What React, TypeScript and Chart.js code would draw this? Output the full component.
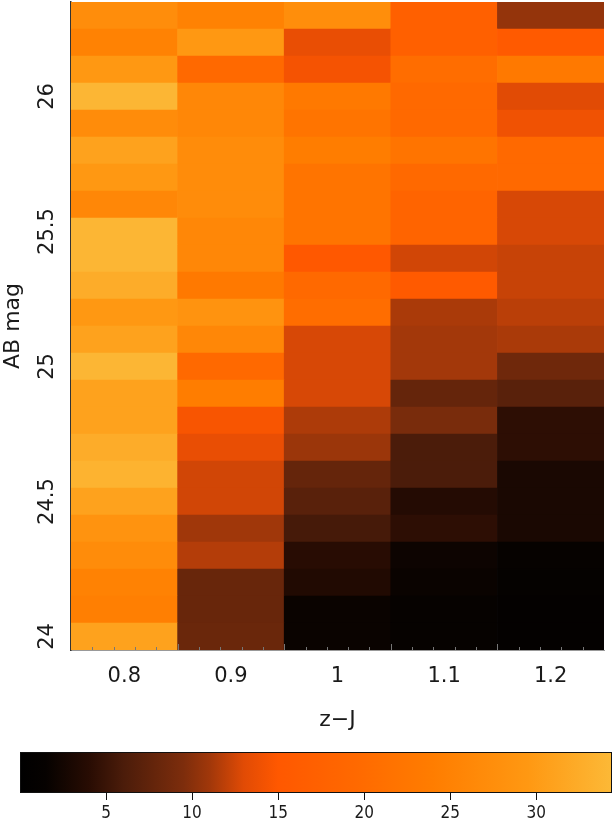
import React, { useEffect, useRef } from 'react';
import { Chart, registerables } from 'chart.js';

Chart.register(...registerables);

// ---- data ----
const zjLabels = ['0.8', '0.9', '1', '1.1', '1.2'];
// AB magnitude bin centres, bottom to top
const abMags = [24.0, 24.1, 24.2, 24.3, 24.4, 24.5, 24.6, 24.7, 24.8, 24.9, 25.0, 25.1, 25.2, 25.3, 25.4, 25.5, 25.6, 25.7, 25.8, 25.9, 26.0, 26.1, 26.2, 26.3];
// cell values per z-J column, in the same order as abMags
const col08 = [31, 24.5, 25, 27, 28.5, 31, 33.5, 32.5, 31, 31, 34, 31, 29.5, 32.5, 34, 34, 26, 29.5, 31, 27, 34, 29.5, 25, 27.3];
const col09 = [8.2, 8, 8, 11.6, 11, 12.5, 12.5, 13.5, 14.5, 24, 19.5, 26, 28.5, 23, 26, 26, 27, 27, 27, 26, 26, 19.5, 29.5, 25];
const col10 = [1.8, 1.8, 3.5, 4, 5.7, 7, 7.8, 10.8, 11.4, 12.7, 12.7, 12.7, 20.5, 19.5, 15, 22, 22, 22, 24, 22, 23, 14.3, 13.5, 27.5];
const col11 = [1.5, 1.5, 1.8, 2, 4.3, 3.7, 6, 6, 9.2, 7.8, 11.1, 11.1, 11.3, 15.5, 12.5, 18.2, 18.2, 19.5, 22, 19.5, 19.5, 20.5, 17, 17];
const col12 = [1, 1, 1.2, 1.5, 3, 3, 3, 4.3, 4.3, 7, 8.5, 11.3, 11.8, 12.2, 12.2, 12.7, 12.7, 19.5, 19.5, 14, 13, 23, 15.5, 10.5];
const yTicks = [24, 24.5, 25, 25.5, 26];
const colorbarTicks = [5, 10, 15, 20, 25, 30];
const colorbarMin = 0;
const colorbarMax = 34.4;

// colour map: value -> rgb
const stopValues = [0, 1.5, 4, 6, 9.5, 11, 13, 15, 19.5, 24, 29.5, 34.4];
const stopColors: number[][] = [
  [0, 0, 0], [6, 2, 0], [40, 12, 3], [75, 28, 10], [125, 45, 12], [160, 55, 10],
  [225, 75, 5], [255, 88, 0], [255, 105, 0], [255, 125, 0], [255, 152, 18], [252, 185, 55],
];

function colorFor(v: number): string {
  const n = stopValues.length;
  if (v <= stopValues[0]) return `rgb(${stopColors[0].join(',')})`;
  if (v >= stopValues[n - 1]) return `rgb(${stopColors[n - 1].join(',')})`;
  for (let i = 0; i < n - 1; i++) {
    const a = stopValues[i], b = stopValues[i + 1];
    if (v >= a && v <= b) {
      const t = (v - a) / (b - a);
      const c = stopColors[i].map((ch, k) => Math.round(ch + (stopColors[i + 1][k] - ch) * t));
      return `rgb(${c.join(',')})`;
    }
  }
  return 'black';
}

const FONT = "'DejaVu Sans', sans-serif";
const TXT = '#1a1a1a';

const minorTicksPlugin = {
  id: 'minorTicks',
  afterDatasetsDraw(chart: any) {
    const x = chart.scales.x;
    const ctx = chart.ctx;
    const bottom = chart.chartArea.bottom;
    ctx.save();
    ctx.strokeStyle = '#777';
    ctx.lineWidth = 1;
    for (let k = 1; k < 25; k++) {
      const idx = (k * 0.02 - 0.05) / 0.1; // fractional category index
      const px = Math.round(x.getPixelForValue(idx)) + 0.5;
      const len = k % 5 === 0 ? 6 : 3;
      ctx.beginPath();
      ctx.moveTo(px, bottom);
      ctx.lineTo(px, bottom - len);
      ctx.stroke();
    }
    ctx.restore();
  },
};

const gradientPlugin = {
  id: 'cbarGradient',
  beforeDatasetsDraw(chart: any) {
    const x = chart.scales.x;
    const { top, bottom, left, right } = chart.chartArea;
    const ctx = chart.ctx;
    const g = ctx.createLinearGradient(left, 0, right, 0);
    stopValues.forEach((v, i) => {
      const t = (x.getPixelForValue(v) - left) / (right - left);
      g.addColorStop(Math.min(1, Math.max(0, t)), `rgb(${stopColors[i].join(',')})`);
    });
    ctx.save();
    ctx.fillStyle = g;
    ctx.fillRect(left, top, right - left, bottom - top);
    ctx.strokeStyle = '#111';
    ctx.lineWidth = 1;
    ctx.strokeRect(left + 0.5, top + 0.5, right - left - 1, bottom - top - 1);
    ctx.restore();
  },
};

export default function App() {
  const mainRef = useRef<HTMLCanvasElement>(null);
  const barRef = useRef<HTMLCanvasElement>(null);

  useEffect(() => {
    document.body.style.margin = '0';
    const columns = [col08, col09, col10, col11, col12];
    const datasets = abMags.map((m, ri) => ({
      data: columns.map(() => [m - 0.05, m + 0.05]),
      backgroundColor: columns.map((c) => colorFor(c[ri])),
      borderWidth: 0,
      grouped: false,
      barPercentage: 1,
      categoryPercentage: 1,
    }));

    const main = new Chart(mainRef.current as HTMLCanvasElement, {
      type: 'bar',
      data: { labels: zjLabels, datasets: datasets as any },
      plugins: [minorTicksPlugin],
      options: {
        animation: false,
        responsive: false,
        events: [],
        layout: { padding: { top: 2, right: 10, left: 0, bottom: 0 } },
        plugins: { legend: { display: false }, tooltip: { enabled: false } },
        scales: {
          x: {
            type: 'category',
            offset: true,
            grid: { display: false, drawTicks: false },
            border: { display: true, color: '#999', width: 1 },
            ticks: { padding: 14, color: TXT, font: { family: FONT, size: 21 } },
            title: { display: true, text: 'z−J', color: TXT, padding: { top: 0, bottom: 7 }, font: { family: FONT, size: 22 } },
            afterFit: (s: any) => { s.height = 90; s.paddingLeft = 0; s.paddingRight = 0; },
          },
          y: {
            type: 'linear',
            min: 23.95,
            max: 26.35,
            z: 1,
            afterBuildTicks: (s: any) => { s.ticks = yTicks.map((v) => ({ value: v })); },
            grid: { display: false, drawTicks: false },
            border: { display: true, color: '#333', width: 1.5 },
            ticks: {
              minRotation: 90, maxRotation: 90, crossAlign: 'center', padding: 0,
              color: TXT, font: { family: FONT, size: 21 },
              callback: (v: any) => String(v),
            },
            title: { display: true, text: 'AB mag', color: TXT, padding: { top: 0, bottom: 0 }, font: { family: FONT, size: 22 } },
            afterFit: (s: any) => { s.width = 71; s.paddingTop = 0; s.paddingBottom = 0; },
          },
        },
      } as any,
    });

    const cbar = new Chart(barRef.current as HTMLCanvasElement, {
      type: 'scatter',
      data: { datasets: [{ data: [] }] },
      plugins: [gradientPlugin],
      options: {
        animation: false,
        responsive: false,
        events: [],
        layout: { padding: { top: 12, right: 2, left: 20, bottom: 0 } },
        plugins: { legend: { display: false }, tooltip: { enabled: false } },
        scales: {
          x: {
            type: 'linear',
            min: colorbarMin,
            max: colorbarMax,
            afterBuildTicks: (s: any) => { s.ticks = colorbarTicks.map((v) => ({ value: v })); },
            grid: { display: true, drawOnChartArea: false, drawTicks: true, tickLength: 7, color: '#111', lineWidth: 1 },
            border: { display: false },
            ticks: { padding: 3, color: TXT, font: { family: "'DejaVu Sans Condensed', 'DejaVu Sans', sans-serif", size: 17 } },
            afterFit: (s: any) => { s.height = 37; },
          },
          y: { display: false, min: 0, max: 1 },
        },
      } as any,
    });

    return () => { main.destroy(); cbar.destroy(); };
  }, []);

  return (
    <div style={{ position: 'relative', width: 614, height: 830, background: '#fff' }}>
      <canvas ref={mainRef} width={614} height={740} style={{ position: 'absolute', left: 0, top: 0 }} />
      <canvas ref={barRef} width={614} height={90} style={{ position: 'absolute', left: 0, top: 740 }} />
    </div>
  );
}
